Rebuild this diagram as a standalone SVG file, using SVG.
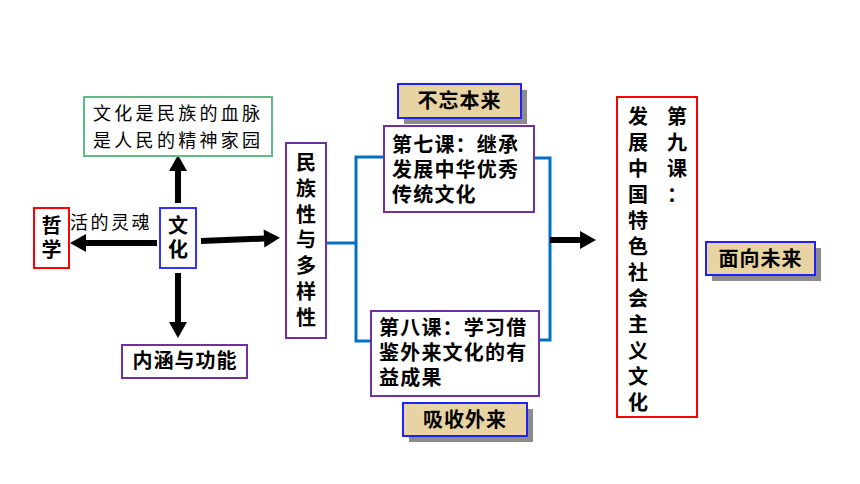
<svg xmlns="http://www.w3.org/2000/svg" width="860" height="484" viewBox="0 0 860 484">
<defs>
<style>
.box{fill:#fff;stroke-width:2}
.pur{stroke:#7030A0}
.red{stroke:#FF0000}
.blu{stroke:#3333FF}
.grn{stroke:#5DBB85}
.t{font-family:"Liberation Sans","Noto Sans CJK SC",sans-serif;font-size:20px;font-weight:bold;fill:#000}
.k{font-family:"Liberation Sans","Noto Sans CJK SC",sans-serif;font-size:18px;font-weight:normal;fill:#000}
.c{text-anchor:middle}
.lab{fill:#E8D3A2;stroke:#1F1FFF;stroke-width:2}
.sh{fill:#8C8C8C}
.arr{stroke:#000;stroke-width:6;fill:none}
.br{stroke:#0070C0;stroke-width:3;fill:none}
</style>
<marker id="ah" markerUnits="userSpaceOnUse" markerWidth="16" markerHeight="18" viewBox="0 0 16 18" refX="0" refY="9" orient="auto" overflow="visible">
<path d="M0,0 L16,9 L0,18 Z" fill="#000"/>
</marker>
</defs>

<g id="connectors">
<line class="arr" x1="178" y1="203" x2="178" y2="171" marker-end="url(#ah)"/>
<line class="arr" x1="157" y1="243" x2="86" y2="243" marker-end="url(#ah)"/>
<line class="arr" x1="178" y1="273" x2="178" y2="322" marker-end="url(#ah)"/>
<line class="arr" x1="201" y1="241" x2="264" y2="238.5" marker-end="url(#ah)"/>
<polyline class="br" points="326,243 356,243"/>
<polyline class="br" points="385,157 356,157 356,341 372,341"/>
<polyline class="br" points="534,158 550,158 550,340 539,340"/>
<line class="arr" x1="550" y1="240" x2="580" y2="240" marker-end="url(#ah)"/>
</g>

<g id="n-bloodline">
<rect class="box grn" x="84" y="97" width="188" height="59"/>
<text class="k" x="93" y="120" letter-spacing="3.3">文化是民族的血脉</text>
<text class="k" x="93" y="147" letter-spacing="3.3">是人民的精神家园</text>
</g>

<g id="n-culture">
<rect class="box blu" x="160" y="208" width="36" height="60"/>
<text class="t c" font-weight="normal"><tspan x="178" y="233">文</tspan><tspan x="178" y="257">化</tspan></text>
</g>

<g id="n-philosophy">
<rect class="box red" x="34" y="208" width="35" height="60"/>
<text class="t c"><tspan x="51.5" y="233">哲</tspan><tspan x="51.5" y="257">学</tspan></text>
</g>

<g id="n-soul-label">
<text class="k" x="70" y="229" letter-spacing="2.5">活的灵魂</text>
</g>

<g id="n-connotation">
<rect class="box pur" x="122" y="345" width="125" height="33"/>
<text class="t c" x="185" y="368" letter-spacing="1">内涵与功能</text>
</g>

<g id="n-diversity">
<rect class="box pur" x="286" y="143" width="40" height="195"/>
<text class="t c"><tspan x="306" y="170">民</tspan><tspan x="306" y="196">族</tspan><tspan x="306" y="222">性</tspan><tspan x="306" y="247">与</tspan><tspan x="306" y="273">多</tspan><tspan x="306" y="299">样</tspan><tspan x="306" y="325">性</tspan></text>
</g>

<g id="n-tag-past">
<rect class="sh" x="404" y="90" width="123" height="34"/>
<rect class="lab" x="398" y="84" width="123" height="34"/>
<text class="t c" x="459.5" y="108" letter-spacing="1">不忘本来</text>
</g>

<g id="n-lesson7">
<rect class="box pur" x="384" y="126" width="150" height="86"/>
<text class="t" letter-spacing="1.2"><tspan x="392" y="152">第七课：继承</tspan><tspan x="392" y="177">发展中华优秀</tspan><tspan x="392" y="202">传统文化</tspan></text>
</g>

<g id="n-lesson8">
<rect class="box pur" x="371" y="311" width="168" height="85"/>
<text class="t" letter-spacing="1.2"><tspan x="379" y="335">第八课：学习借</tspan><tspan x="379" y="360">鉴外来文化的有</tspan><tspan x="379" y="385">益成果</tspan></text>
</g>

<g id="n-tag-absorb">
<rect class="sh" x="409" y="409" width="124" height="33"/>
<rect class="lab" x="403" y="403" width="124" height="33"/>
<text class="t c" x="465" y="427" letter-spacing="1">吸收外来</text>
</g>

<g id="n-lesson9">
<rect class="box red" x="617" y="97" width="80" height="320"/>
<text class="t c"><tspan x="677" y="124">第</tspan><tspan x="677" y="150">九</tspan><tspan x="677" y="176">课</tspan><tspan x="677" y="202">：</tspan></text>
<text class="t c"><tspan x="638" y="124">发</tspan><tspan x="638" y="150">展</tspan><tspan x="638" y="176">中</tspan><tspan x="638" y="202">国</tspan><tspan x="638" y="228">特</tspan><tspan x="638" y="254">色</tspan><tspan x="638" y="280">社</tspan><tspan x="638" y="306">会</tspan><tspan x="638" y="332">主</tspan><tspan x="638" y="358">义</tspan><tspan x="638" y="384">文</tspan><tspan x="638" y="410">化</tspan></text>
</g>

<g id="n-tag-future">
<rect class="sh" x="712" y="248" width="109" height="33"/>
<rect class="lab" x="706" y="242" width="109" height="33"/>
<text class="t c" x="760.5" y="266" letter-spacing="1">面向未来</text>
</g>
</svg>
